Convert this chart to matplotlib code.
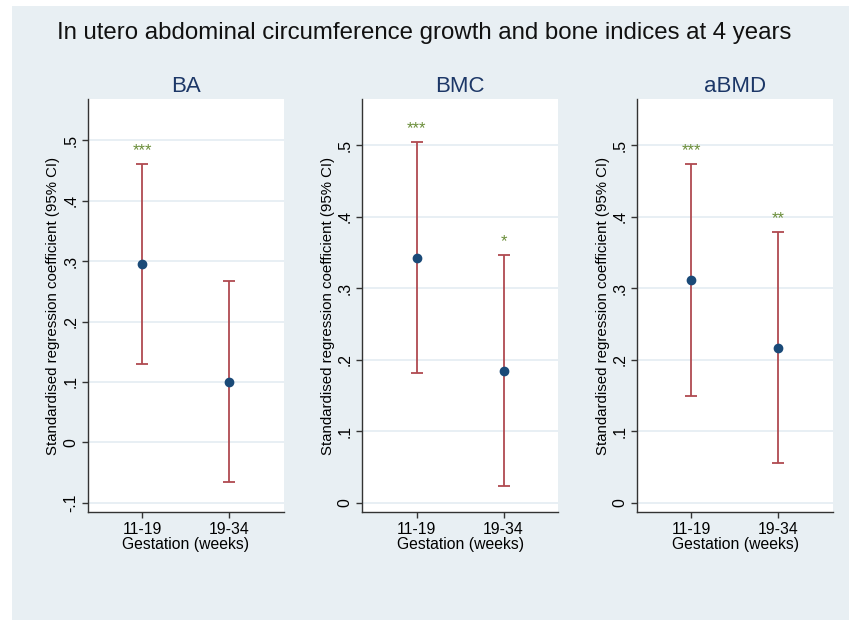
import matplotlib
matplotlib.use('Agg')
import matplotlib.pyplot as plt
from matplotlib.patches import Rectangle

plt.rcParams['font.family'] = ['Liberation Sans', 'DejaVu Sans']

# Data
outcomes = ['BA', 'BMC', 'aBMD']
periods = ['11-19', '19-34']

coef_ba = [0.295, 0.100]
lower_ba = [0.129, -0.066]
upper_ba = [0.461, 0.267]
stars_ba = ['***', '']

coef_bmc = [0.343, 0.185]
lower_bmc = [0.181, 0.024]
upper_bmc = [0.505, 0.347]
stars_bmc = ['***', '*']

coef_abmd = [0.311, 0.217]
lower_abmd = [0.149, 0.055]
upper_abmd = [0.474, 0.379]
stars_abmd = ['***', '**']

yticks_ba = [-0.1, 0, 0.1, 0.2, 0.3, 0.4, 0.5]
ytick_labels_ba = ['-.1', '0', '.1', '.2', '.3', '.4', '.5']
yticks_other = [0, 0.1, 0.2, 0.3, 0.4, 0.5]
ytick_labels_other = ['0', '.1', '.2', '.3', '.4', '.5']

panels = [
    (coef_ba, lower_ba, upper_ba, stars_ba, yticks_ba, ytick_labels_ba, (-0.115, 0.568)),
    (coef_bmc, lower_bmc, upper_bmc, stars_bmc, yticks_other, ytick_labels_other, (-0.013, 0.565)),
    (coef_abmd, lower_abmd, upper_abmd, stars_abmd, yticks_other, ytick_labels_other, (-0.013, 0.565)),
]

bg = '#e8eff3'
navy = '#1a4a78'
maroon = '#b04a50'
green = '#6b8e3a'
title_col = '#1c3767'

fig = plt.figure(figsize=(8.49, 6.20), dpi=100)
# light plot region background, white strip on left and top
fig.patches.append(Rectangle((12 / 849, 0), 1, 1 - 6 / 620, transform=fig.transFigure,
                             facecolor=bg, edgecolor='none', zorder=0))

fig.text(0.5, 1 - 33 / 620, 'In utero abdominal circumference growth and bone indices at 4 years',
         ha='center', va='center', fontsize=17.3, color='#111111')

lefts = [88, 362.3, 637]
x = [1, 2]

for i, (coef, lo, hi, stars, yt, ytl, ylim) in enumerate(panels):
    ax = fig.add_axes([lefts[i] / 849, 1 - 512 / 620, 196 / 849, 413 / 620])
    ax.set_zorder(2)
    ax.set_facecolor('white')
    ax.set_xlim(0.376, 2.629)
    ax.set_ylim(*ylim)

    for y in yt:
        ax.axhline(y, color='#e4ecf2', linewidth=1.2, zorder=1)

    err = [[c - l for c, l in zip(coef, lo)], [h - c for c, h in zip(coef, hi)]]
    ax.errorbar(x, coef, yerr=err, fmt='none', ecolor=maroon, elinewidth=1.3,
                capsize=4, capthick=1.3, zorder=2)
    ax.plot(x, coef, 'o', color=navy, markersize=6, zorder=3)

    # significance stars above upper CI
    for xi, h, s in zip(x, hi, stars):
        if s:
            ax.annotate(s, (xi, h), xytext=(0, 6.5), textcoords='offset points',
                        ha='center', va='baseline', fontsize=12, color=green)

    ax.set_yticks(yt)
    ax.set_yticklabels(ytl, rotation=90, va='center')
    ax.set_xticks(x)
    ax.set_xticklabels(periods)
    ax.tick_params(direction='out', length=4, width=1, color='#333333',
                   labelsize=11.3, pad=3)
    ax.set_xlabel('Gestation (weeks)', fontsize=11.3, labelpad=0)
    ax.set_ylabel('Standardised regression coefficient (95% CI)', fontsize=10.8, labelpad=2)
    ax.set_title(outcomes[i], fontsize=16, color=title_col, pad=5)

    for side in ['top', 'right']:
        ax.spines[side].set_visible(False)
    for side in ['left', 'bottom']:
        ax.spines[side].set_color('#333333')
        ax.spines[side].set_linewidth(1)

plt.savefig('out.png', dpi=100)
